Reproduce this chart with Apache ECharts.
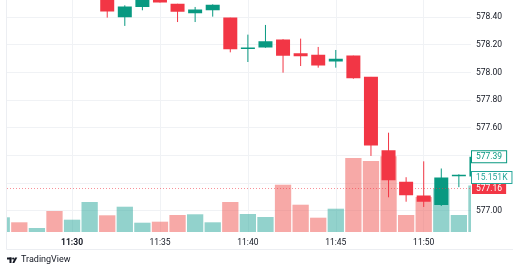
<!DOCTYPE html>
<html><head><meta charset="utf-8">
<script src="https://cdn.jsdelivr.net/npm/echarts@6/dist/echarts.min.js"></script>
<style>html,body{margin:0;padding:0;background:#fff;}#c{width:520px;height:272px;}</style>
</head><body><div id="c"></div>
<script>
// time in minutes after 11:00 (one bar per minute)
const minutes   = [26,27,28,29,30,31,32,33,34,35,36,37,38,39,40,41,42,43,44,45,46,47,48,49,50,51,52,53];
const volumes   = [4790,3160,1300,6840,4010,9770,5440,8240,3030,3360,5540,5770,3160,9770,5860,4890,15410,8890,4660,7590,24110,23130,24660,5540,11400,14070,5540,15151];
const volumeUp  = [1,0,1,0,1,1,0,1,1,0,0,1,1,0,1,1,0,0,0,1,0,0,0,0,0,1,1,1];

const candleMinutes = [32,33,34,35,36,37,38,39,40,41,42,43,44,45,46,47,48,49,50,51,52,53];
const opens  = [578.56,578.403,578.476,578.60,578.492,578.432,578.453,578.393,578.172,578.184,578.234,578.135,578.124,578.082,578.119,577.965,577.434,577.205,577.106,577.045,577.252,577.25];
const closes = [578.444,578.473,578.55,578.509,578.442,578.451,578.485,578.171,578.176,578.222,578.124,578.121,578.054,578.095,577.962,577.475,577.224,577.116,577.068,577.236,577.256,577.387];
const lows   = [578.396,578.336,578.449,578.505,578.364,578.364,578.403,578.145,578.075,578.178,577.998,578.046,578.034,578.034,577.954,577.396,577.097,577.065,577.027,577.034,577.17,577.24];
const highs  = [578.58,578.485,578.56,578.62,578.496,578.473,578.492,578.395,578.273,578.343,578.240,578.244,578.184,578.162,578.121,577.967,577.564,577.242,577.357,577.305,577.263,577.39];

const xTickMinutes = [30,35,40,45,50];
const hiddenPriceLabels = [577.2, 577.4];
const refPrice = 577.16;

const UP = '#089981', DN = '#f23645';
const VUP = 'rgba(38,166,154,0.5)', VDN = 'rgba(239,83,80,0.5)';
const GRID = '#f0f2f5';
const FONT = 'Roboto, "Noto Sans", sans-serif';
const TXT = '#131722';

const lastPrice = closes[closes.length - 1];
const lastVolume = volumes[volumes.length - 1];

const X_MIN = 26.3, X_MAX = 52.69;
const CANDLE_W = 13, VOL_W = 16.3;

function clipArea(params) {
  const cs = params.coordSys;
  return {x: cs.x, y: cs.y, width: cs.width, height: cs.height};
}

function renderCandle(params, api) {
  const area = clipArea(params);
  const t = api.value(0), o = api.value(1), c = api.value(2), l = api.value(3), h = api.value(4);
  const pO = api.coord([t, o]), pC = api.coord([t, c]), pL = api.coord([t, l]), pH = api.coord([t, h]);
  const up = c >= o;
  const col = up ? UP : DN;
  const cx = pO[0];
  const top = Math.min(pO[1], pC[1]), bot = Math.max(pO[1], pC[1]);
  const children = [];
  if (cx >= area.x && cx <= area.x + area.width) {
    const y1 = Math.max(pH[1], area.y), y2 = Math.min(pL[1], area.y + area.height);
    if (y2 > y1) children.push({type: 'line', shape: {x1: cx, y1: y1, x2: cx, y2: y2}, style: {stroke: col, lineWidth: 1}});
  }
  const body = echarts.graphic.clipRectByRect({x: cx - CANDLE_W / 2 - 0.5, y: top - 0.5, width: CANDLE_W + 1, height: bot - top + 1}, area);
  if (body) children.push({type: 'rect', shape: body, style: {fill: col}});
  return {type: 'group', children: children};
}

function renderVolume(params, api) {
  const area = clipArea(params);
  const t = api.value(0), v = api.value(1);
  const p = api.coord([t, v]), p0 = api.coord([t, 0]);
  const r = echarts.graphic.clipRectByRect({x: p[0] - VOL_W / 2, y: p[1], width: VOL_W, height: p0[1] - p[1]}, area);
  if (!r) return null;
  return {type: 'rect', shape: r, style: {fill: volumeUp[params.dataIndex] ? VUP : VDN}};
}

const chart = echarts.init(document.getElementById('c'), null, {renderer: 'canvas', width: 520, height: 272});

const tagLabel = (text, bg, border, color) => ({
  show: true, position: 'end', distance: 1, formatter: text,
  backgroundColor: bg, borderColor: border, borderWidth: border ? 1 : 0, color: color,
  fontSize: 8.5, lineHeight: 9, fontFamily: FONT, padding: [1, 4, 1, 4]
});

const option = {
  animation: false,
  backgroundColor: '#ffffff',
  grid: [
    {left: 7, right: 49, top: -10.6, bottom: 61.3, outerBoundsMode: 'none', containLabel: false},
    {left: 7, right: 49, top: 132, bottom: 40, outerBoundsMode: 'none', containLabel: false}
  ],
  xAxis: [
    {type: 'value', gridIndex: 0, min: X_MIN, max: X_MAX,
     axisLine: {show: false}, axisTick: {show: false, customValues: xTickMinutes},
     axisLabel: {show: false, customValues: xTickMinutes},
     splitLine: {show: true, lineStyle: {color: GRID, width: 1}}},
    {type: 'value', gridIndex: 1, min: X_MIN, max: X_MAX,
     axisLine: {show: false}, axisTick: {show: false, customValues: xTickMinutes},
     axisLabel: {show: true, customValues: xTickMinutes, margin: 6,
       fontSize: 8.5, fontFamily: FONT, color: TXT,
       formatter: v => (v === 30 ? '{b|11:' + v + '}' : '11:' + v),
       rich: {b: {fontWeight: 'bold', fontSize: 8.5, fontFamily: FONT, color: TXT}}},
     splitLine: {show: true, lineStyle: {color: GRID, width: 1}}}
  ],
  yAxis: [
    {type: 'value', gridIndex: 0, position: 'right', min: 577, max: 578.6, interval: 0.2,
     axisLine: {show: false}, axisTick: {show: false},
     axisLabel: {margin: 5, fontSize: 8.5, fontFamily: FONT, color: TXT,
       formatter: v => (hiddenPriceLabels.some(h => Math.abs(h - v) < 1e-6) ? '' : v.toFixed(2))},
     splitLine: {show: true, lineStyle: {color: GRID, width: 1}}},
    {type: 'value', gridIndex: 1, min: 0, max: 32580, show: false, splitLine: {show: false}}
  ],
  series: [
    {type: 'custom', xAxisIndex: 1, yAxisIndex: 1, z: 1, silent: true, clip: true,
     renderItem: renderVolume,
     data: minutes.map((m, i) => [m, volumes[i]])},
    {type: 'custom', xAxisIndex: 0, yAxisIndex: 0, z: 3, silent: true, clip: true,
     renderItem: renderCandle,
     data: candleMinutes.map((m, i) => [m, opens[i], closes[i], lows[i], highs[i]])},
    {type: 'line', xAxisIndex: 0, yAxisIndex: 0, data: [], clip: false, silent: true, z: 4,
     markLine: {symbol: ['none', 'none'], silent: true, animation: false,
       data: [
         {yAxis: refPrice, lineStyle: {color: 'rgba(242,54,69,0.55)', type: [1, 2], width: 1},
          label: tagLabel(refPrice.toFixed(2), DN, null, '#fff')},
         {yAxis: lastPrice, lineStyle: {color: 'rgba(0,0,0,0)', width: 1},
          label: tagLabel(lastPrice.toFixed(2), '#fff', UP, UP)}
       ]}},
    {type: 'line', xAxisIndex: 1, yAxisIndex: 1, data: [], clip: false, silent: true, z: 5,
     markLine: {symbol: ['none', 'none'], silent: true, animation: false,
       data: [
         {yAxis: lastVolume, lineStyle: {color: 'rgba(0,0,0,0)', width: 1},
          label: Object.assign(tagLabel((lastVolume / 1000).toFixed(3) + 'K', '#fff', '#26a69a', '#26a69a'), {offset: [0, -8]})}
       ]}}
  ],
  graphic: [
    {type: 'polyline', shape: {points: [[6.5, 0], [6.5, 249.5], [513, 249.5]]},
     style: {stroke: '#eceef2', lineWidth: 1, fill: null}, silent: true},
    {type: 'rect', shape: {x: 7, y: 257.5, width: 4.5, height: 2}, style: {fill: TXT}},
    {type: 'rect', shape: {x: 9.5, y: 257.5, width: 2, height: 5.5}, style: {fill: TXT}},
    {type: 'circle', shape: {cx: 13.2, cy: 258.6, r: 1.1}, style: {fill: TXT}},
    {type: 'polygon', shape: {points: [[15, 257.5], [17.3, 257.5], [14.3, 263], [12.3, 263]]}, style: {fill: TXT}},
    {type: 'text', left: 21, top: 255, style: {text: 'TradingView', fontSize: 9, fontFamily: FONT, fill: TXT}}
  ]
};
chart.setOption(option);
</script>
</body></html>
